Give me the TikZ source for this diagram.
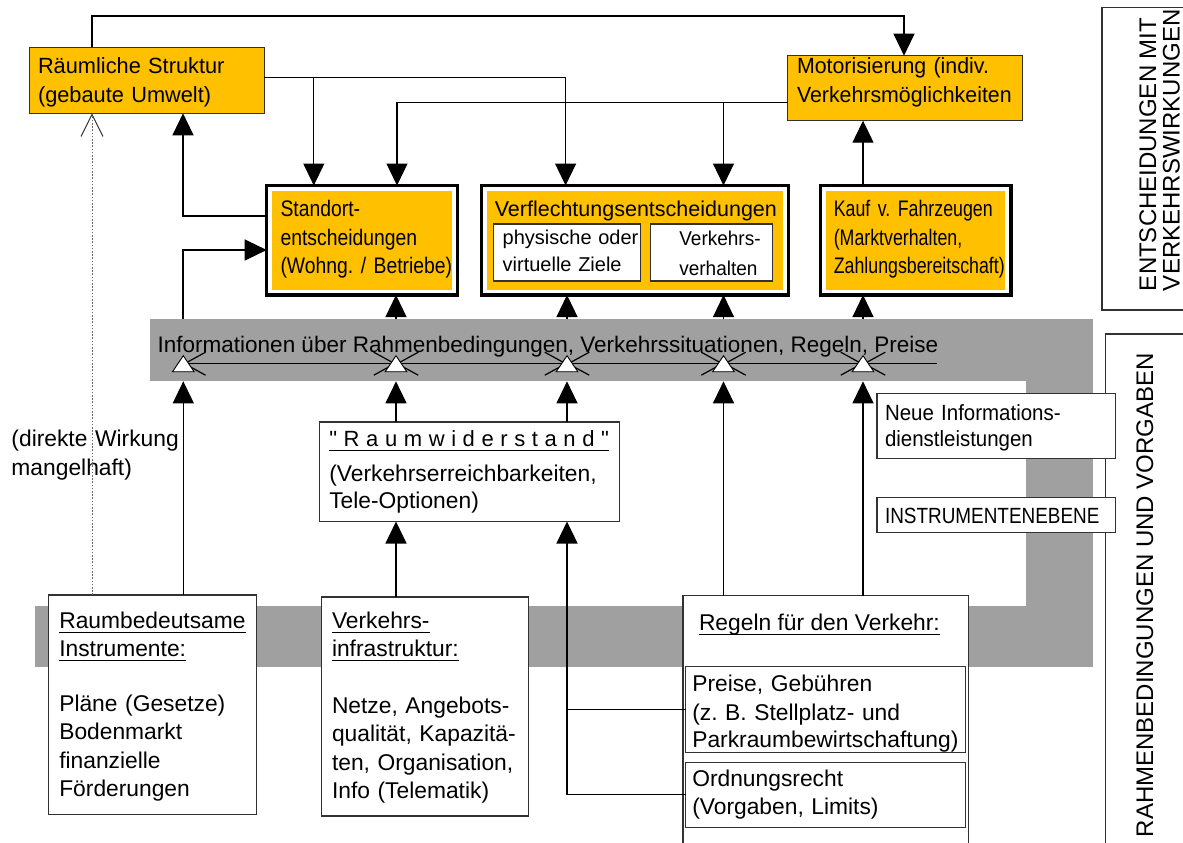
\documentclass[tikz,border=0pt]{standalone}
\usepackage{fontspec}
\setmainfont{Liberation Sans}
\usetikzlibrary{arrows.meta}
\definecolor{boxorange}{RGB}{255,192,0}
\definecolor{bandgray}{RGB}{160,160,160}
\definecolor{edgegray}{RGB}{50,50,50}
\definecolor{dotgray}{RGB}{110,110,110}
\frenchspacing
% size, horizontal stretch
\newcommand\txtfont[2]{\fontsize{#1}{28.5}\selectfont\addfontfeature{FakeStretch=#2}}
% underline at a fixed depth below the baseline
\newsavebox\ulinebox
\newcommand\ulinetext[1]{\leavevmode\sbox\ulinebox{#1}\rlap{\rule[-4.6pt]{\wd\ulinebox}{1.1pt}}\usebox\ulinebox}

\begin{document}
\begin{tikzpicture}[x=1pt,y=-1pt,
  box/.style={draw=edgegray, line width=1.3pt, fill=white, inner sep=0pt, outer sep=0pt, anchor=north west},
  orangebox/.style={box, fill=boxorange},
  decision/.style={draw=black, line width=3.5pt, fill=white, inner sep=0pt, outer sep=0pt, anchor=north west},
  txt/.style={anchor=base west, inner sep=0pt, outer sep=0pt, text width=330pt, align=left},
  line/.style={anchor=base west, inner sep=0pt, outer sep=0pt},
  vtxt/.style={anchor=base west, inner sep=0pt, outer sep=0pt, rotate=90, font=\txtfont{24}{1.0}},
  conn/.style={draw=black, line width=1.2pt},
  arr/.style={conn, -{Triangle[length=22pt,width=21pt]}},
  barbs/.style={conn, {Straight Barb[length=21pt,width=23pt]}-{Straight Barb[length=21pt,width=23pt]}},
  lbarb/.style={conn, {Straight Barb[length=21pt,width=23pt]}-},
  dotline/.style={draw=dotgray, line width=1pt, dash pattern=on 1.6pt off 1.6pt, -{Straight Barb[length=22pt,width=22pt,color=black!80]}},
  marker/.style={fill=white, draw=black, line width=0.9pt, line join=miter}
]
\useasboundingbox (0,0) rectangle (1183,843);
\fill[white] (0,0) rectangle (1183,843);

% ---------- grey information band and instrument level ----------
\node[fill=bandgray, inner sep=0pt, outer sep=0pt, anchor=north west,
      minimum width=943pt, minimum height=62pt] (info) at (150,319.3) {};
\fill[bandgray] (1026,381) rectangle (1093,667);
\fill[bandgray] (35,606) rectangle (1093,667);

% ---------- side labels ----------
\node[box, draw=edgegray, line width=1.1pt, minimum width=100pt, minimum height=302.7pt] (labA) at (1102,7.3) {};
\node[vtxt] (labAa) at (1156,291) {ENTSCHEIDUNGEN MIT};
\node[vtxt] (labAb) at (1179.5,291) {VERKEHRSWIRKUNGEN};
\node[box, draw=edgegray, line width=1.1pt, minimum width=100pt, minimum height=530pt] (labB) at (1105.8,334) {};
\node[vtxt] (labBa) at (1153,837) {RAHMENBEDINGUNGEN UND VORGABEN};

% ---------- upper level: structure and decisions ----------
\node[orangebox, minimum width=234.9pt, minimum height=66pt] (raum) at (29.5,47.3) {};
\node[txt, font=\txtfont{22}{0.99}] (raumt) at (38,74) {Räumliche Struktur\\(gebaute Umwelt)};

\node[orangebox, minimum width=234.6pt, minimum height=65pt] (motor) at (787.7,55.7) {};
\node[txt, font=\txtfont{22}{0.97}] (motort) at (797,74) {Motorisierung (indiv.\\Verkehrsmöglichkeiten};

\node[decision, minimum width=190.6pt, minimum height=109.5pt] (standort) at (266.7,185.5) {};
\fill[boxorange] ([shift={(5.5,5.5)}]standort.north west) rectangle ([shift={(-5.5,-5.5)}]standort.south east);
\node[txt, font=\txtfont{22.5}{0.86}] (standortt) at (280.5,216.7) {Standort-\\entscheidungen\\(Wohng. / Betriebe)};

\node[decision, minimum width=307pt, minimum height=109.5pt] (verfl) at (481.5,185.5) {};
\fill[boxorange] ([shift={(5.5,5.5)}]verfl.north west) rectangle ([shift={(-5.5,-5.5)}]verfl.south east);
\node[line, font=\txtfont{21.5}{1.0}] (verflt) at (494.8,216) {Verflechtungsentscheidungen};
\node[box, line width=1.1pt, minimum width=147.4pt, minimum height=57pt] (physbox) at (493.3,224) {};
\node[txt, font=\txtfont{20}{1.0}] (physt) at (502.7,244) {physische oder\\[-1pt]virtuelle Ziele};
\node[box, line width=1.1pt, minimum width=122pt, minimum height=57pt] (verhbox) at (650.7,224) {};
\node[txt, font=\txtfont{20}{0.95}] (verht) at (679.3,245.7) {Verkehrs-\\[1pt]verhalten};

\node[decision, minimum width=190.4pt, minimum height=109.5pt] (kauf) at (820.4,185.5) {};
\fill[boxorange] ([shift={(5.5,5.5)}]kauf.north west) rectangle ([shift={(-5.5,-5.5)}]kauf.south east);
\node[txt, font=\txtfont{22.5}{0.79}] (kauft) at (833.8,216.7) {Kauf v. Fahrzeugen\\(Marktverhalten,\\Zahlungsbereitschaft)};

% ---------- information band ----------
\node[line, font=\txtfont{22.5}{1.0}] (infot) at (157.7,352.7) {Informationen über Rahmenbedingungen, Verkehrssituationen, Regeln, Preise};
\coordinate (t1) at (183.3,363.7);
\coordinate (t2) at (396,363.7);
\coordinate (t3) at (567,363.7);
\coordinate (t4) at (723.5,363.7);
\coordinate (t5) at (863,363.7);
\coordinate (tend) at (936.7,363.7);
\draw[barbs] (t1) -- (t2);
\draw[barbs] (t2) -- (t3);
\draw[barbs] (t3) -- (t4);
\draw[barbs] (t4) -- (t5);
\draw[lbarb] (t5) -- (tend);
\foreach \p in {t1,t2,t3,t4,t5}
  \filldraw[marker] (\p) ++(0,-8) -- ++(10.8,16) -- ++(-21.6,0) -- cycle;

% ---------- middle level ----------
\node[box, minimum width=299.8pt, minimum height=99.5pt] (raumw) at (319.5,422) {};
\node[line, font=\txtfont{22}{1.0}\addfontfeature{LetterSpace=30,Ligatures=TeXOff}] (raumwt) at (329.3,446) {\ulinetext{"Raumwiderstand"}};
\node[txt, font=\txtfont{22.8}{1.0}] (raumwb) at (329.3,481.7) {(Verkehrserreichbarkeiten,\\[-2pt]Tele-Optionen)};

\node[txt, font=\txtfont{22.8}{1.0}] (direkt) at (11.5,446.7) {(direkte Wirkung\\mangelhaft)};

\node[box, minimum width=238.8pt, minimum height=65pt] (neue) at (877,393.3) {};
\node[txt, font=\txtfont{22}{0.93}] (neuet) at (885,420) {Neue Informations-\\[-2pt]dienstleistungen};
\node[box, minimum width=238.8pt, minimum height=34.6pt] (instr) at (877,497.7) {};
\node[line, font=\txtfont{22}{0.86}] (instrt) at (885,523.3) {INSTRUMENTENEBENE};

% ---------- instruments ----------
\node[box, minimum width=207.8pt, minimum height=219.3pt] (raumb) at (48.6,595) {};
\node[txt, font=\txtfont{22.8}{1.0}] (raumbt) at (59.3,628.3)
  {\ulinetext{Raumbedeutsame}\\\ulinetext{Instrumente:}\\[26pt]Pläne (Gesetze)\\Bodenmarkt\\finanzielle\\Förderungen};

\node[box, minimum width=207pt, minimum height=219pt] (infra) at (321.5,597) {};
\node[txt, font=\txtfont{22.8}{1.0}] (infrat) at (332,628.3)
  {\ulinetext{Verkehrs-}\\\ulinetext{infrastruktur:}\\[28pt]Netze, Angebots-\\qualität, Kapazitä-\\ten, Organisation,\\Info (Telematik)};

\node[box, minimum width=285.5pt, minimum height=270pt] (regeln) at (683,595.7) {};
\node[line, font=\txtfont{22.8}{1.0}] (regelnt) at (699,630) {\ulinetext{Regeln für den Verkehr:}};
\node[box, line width=1.1pt, minimum width=279.6pt, minimum height=86pt] (preise) at (685.8,666.7) {};
\node[txt, font=\txtfont{22.8}{1.0}] (preiset) at (692.3,691.7) {Preise, Gebühren\\(z. B. Stellplatz- und\\[-1pt]Parkraumbewirtschaftung)};
\node[box, line width=1.1pt, minimum width=279.6pt, minimum height=65pt] (ordnung) at (685.8,762.3) {};
\node[txt, font=\txtfont{22.8}{1.0}] (ordnungt) at (692.3,786) {Ordnungsrecht\\(Vorgaben, Limits)};

% ---------- connectors in the upper level ----------
\coordinate (jr) at (313.8,77.7);
\coordinate (jm) at (723.5,102.7);
\draw[arr] (raum.north -| 92,0) |- (904,16) -- (motor.north -| 904,0);
\draw[arr] (raum.east |- 0,77.7) -| (verfl.north -| 565.6,0);
\draw[arr] (jr) -- (standort.north -| jr);
\draw[arr] (motor.west |- 0,102.7) -| (standort.north -| 397,0);
\draw[arr] (jm) -- (verfl.north -| jm);
\draw[arr] (kauf.north -| 863,0) -- (motor.south -| 863,0);
\draw[arr] (standort.west |- 0,216) -| (raum.south -| 183,0);
\draw[arr] (info.north -| 183,0) |- (standort.west |- 0,250);

% band to decisions
\draw[arr] (info.north -| 396,0) -- (standort.south -| 396,0);
\draw[arr] (info.north -| 567,0) -- (verfl.south -| 567,0);
\draw[arr] (info.north -| 723.5,0) -- (verfl.south -| 723.5,0);
\draw[arr] (info.north -| 863,0) -- (kauf.south -| 863,0);

% instruments to band
\draw[arr] (raumb.north -| 183.3,0) -- (info.south -| 183.3,0);
\draw[arr] (raumw.north -| 396,0) -- (info.south -| 396,0);
\draw[arr] (raumw.north -| 567,0) -- (info.south -| 567,0);
\draw[arr] (regeln.north -| 723.5,0) -- (info.south -| 723.5,0);
\draw[arr] (regeln.north -| 863,0) -- (info.south -| 863,0);

% instruments to spatial resistance
\draw[arr] (infra.north -| 396,0) -- (raumw.south -| 396,0);
\draw[arr] (ordnung.west) -| (raumw.south -| 567,0);
\draw[conn] (preise.west) -- (preise.west -| 567,0);

% weak direct effect
\draw[dotline] (raumb.north -| 92,0) -- (raum.south -| 92,0);
\end{tikzpicture}
\end{document}
